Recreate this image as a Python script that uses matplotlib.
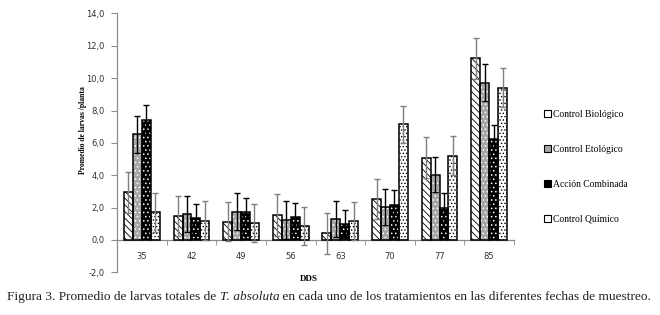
import matplotlib
matplotlib.use("Agg")
import matplotlib.pyplot as plt
import numpy as np
from matplotlib.patches import Patch

categories = ["35", "42", "49", "56", "63", "70", "77", "85"]
series = ["Control Biológico", "Control Etológico", "Acción Combinada", "Control Químico"]
cb = [2.95, 1.47, 1.12, 1.53, 0.42, 2.53, 5.07, 11.22]
ce = [6.52, 1.60, 1.74, 1.22, 1.29, 2.05, 4.04, 9.73]
ac = [7.43, 1.35, 1.74, 1.43, 1.01, 2.19, 1.99, 6.27]
cq = [1.70, 1.18, 1.04, 0.85, 1.16, 7.14, 5.22, 9.42]
cb_err = [1.28, 1.22, 1.20, 1.30, 1.26, 1.24, 1.27, 1.25]
ce_err = [1.12, 1.10, 1.15, 1.18, 1.10, 1.10, 1.10, 1.12]
ac_err = [0.90, 0.85, 0.85, 0.85, 0.83, 0.87, 0.90, 0.85]
cq_err = [1.18, 1.20, 1.18, 1.18, 1.18, 1.16, 1.18, 1.18]
yticks = [-2, 0, 2, 4, 6, 8, 10, 12, 14]

values = [cb, ce, ac, cq]
errs = [cb_err, ce_err, ac_err, cq_err]
faces = ["white", "#a6a6a6", "black", "white"]
hatch_cols = ["black", "white", "white", "black"]
hatches = ["\\\\\\\\\\", "....", "....", "....."]
err_cols = ["#7f7f7f", "black", "black", "#7f7f7f"]

plt.rcParams["hatch.linewidth"] = 0.6
fig = plt.figure(figsize=(6.6, 3.15), dpi=100)
ax = fig.add_axes([117/660, 1-272.3/315, (514-117)/660, (272.3-13.5)/315])

x = np.arange(len(categories))
w = 0.18
for i in range(4):
    pos = x + (i - 1.5) * w
    ax.bar(pos, values[i], w, color=faces[i], edgecolor=hatch_cols[i], hatch=hatches[i], linewidth=0, zorder=2)
    ax.bar(pos, values[i], w, facecolor="none", edgecolor="black", linewidth=1.1, zorder=3)
    ax.errorbar(pos, values[i], yerr=errs[i], fmt="none", ecolor=err_cols[i], elinewidth=1.0, capsize=2.5, capthick=1.0, zorder=4)

ax.set_xlim(-0.5, len(categories) - 0.5)
ax.set_ylim(-2, 14)
ax.set_yticks(yticks)
ax.set_yticklabels([f"{v:.1f}".replace(".", ",") for v in yticks], fontsize=6, color="#333333", family="DejaVu Sans")
ax.spines["top"].set_visible(False)
ax.spines["right"].set_visible(False)
ax.spines["bottom"].set_position(("data", 0))
for s in ["left", "bottom"]:
    ax.spines[s].set_color("#8c8c8c")
    ax.spines[s].set_linewidth(0.9)
ax.tick_params(axis="y", direction="out", length=4, color="#8c8c8c", pad=5)
ax.set_xticks(x)
ax.set_xticklabels(categories, fontsize=6, color="#333333", family="DejaVu Sans")
ax.tick_params(axis="x", which="major", length=0, pad=9)
ax.set_xticks(np.arange(-0.5, len(categories)), minor=True)
ax.tick_params(axis="x", which="minor", direction="out", length=3.5, color="#8c8c8c")

fig.text(309/660, 1-279/315, "DDS", ha="center", va="center", fontsize=6.5, fontweight="bold", family="Liberation Serif")
fig.text(83/660, 1-130/315, "Promedio de larvas /planta", rotation=90, ha="center", va="center", fontsize=5.5, fontweight="bold", family="Liberation Serif")

handles = [Patch(facecolor=faces[i], edgecolor="black", hatch=None, linewidth=0.8) for i in range(4)]
leg = fig.legend(handles, series, loc="upper left", bbox_to_anchor=(544/660, 1-110/315), frameon=False,
                 prop={"family": "Liberation Serif", "size": 6.9}, handlelength=0.7, handleheight=0.7,
                 handletextpad=0.25, labelspacing=2.7, borderaxespad=0, borderpad=0)

fs = 9.6
t1 = fig.text(7/660, 1-297/315, "Figura 3. Promedio de larvas totales de ", ha="left", va="center", fontsize=fs, family="Liberation Serif", color="#222222")
t2 = fig.text(0, 0, "T. absoluta", fontsize=fs, family="Liberation Serif", style="italic", color="#222222")
t3 = fig.text(0, 0, " en cada uno de los tratamientos en las diferentes fechas de muestreo.", fontsize=fs, family="Liberation Serif", color="#222222")
fig.canvas.draw()
r = fig.canvas.get_renderer()
bb1 = t1.get_window_extent(r)
t2.set_position((bb1.x1/fig.bbox.width, t1.get_position()[1]))
t2.set_va("center")
fig.canvas.draw()
bb2 = t2.get_window_extent(r)
t3.set_position((bb2.x1/fig.bbox.width, t1.get_position()[1]))
t3.set_va("center")

fig.savefig("out.png", dpi=100, facecolor="white")
